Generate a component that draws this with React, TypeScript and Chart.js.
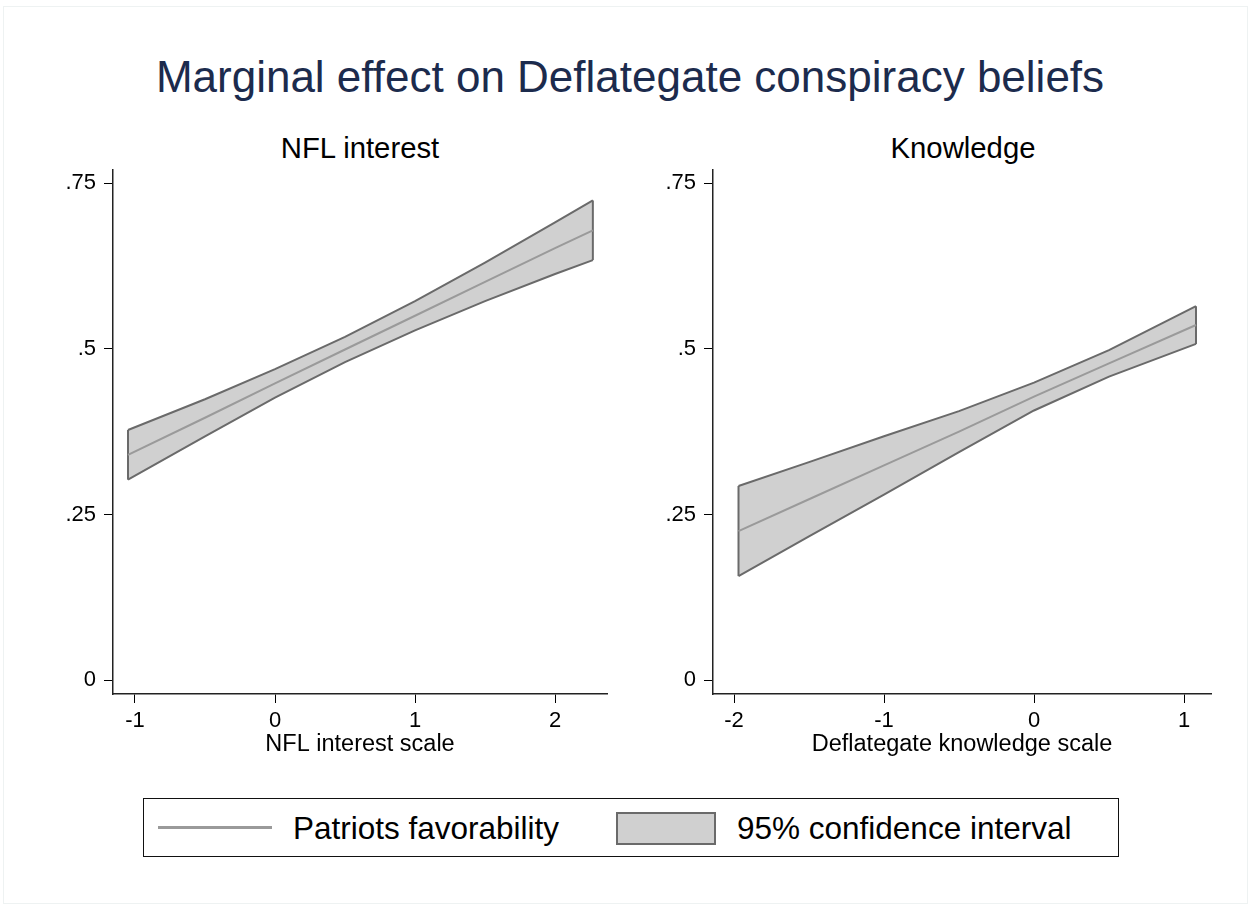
import React, { useEffect, useRef } from "react";
import { Chart, registerables } from "chart.js";

Chart.register(...registerables);

// ---------- data ----------
const mainTitle = "Marginal effect on Deflategate conspiracy beliefs";

const nflTitle = "NFL interest";
const nflAxisTitle = "NFL interest scale";
const nflX = [-1.05, -0.5, 0, 0.5, 1, 1.5, 2, 2.27];
const nflMid = [0.34, 0.396, 0.448, 0.499, 0.55, 0.601, 0.652, 0.679];
const nflUpper = [0.3775, 0.424, 0.4695, 0.518, 0.572, 0.63, 0.691, 0.724];
const nflLower = [0.3025, 0.368, 0.4265, 0.48, 0.528, 0.572, 0.613, 0.634];
const nflXTicks = [-1, 0, 1, 2];

const knowTitle = "Knowledge";
const knowAxisTitle = "Deflategate knowledge scale";
const knowX = [-1.97, -1.5, -1, -0.5, 0, 0.5, 1.08];
const knowMid = [0.225, 0.273, 0.324, 0.375, 0.428, 0.478, 0.536];
const knowUpper = [0.293, 0.329, 0.368, 0.406, 0.449, 0.498, 0.5645];
const knowLower = [0.157, 0.217, 0.28, 0.344, 0.407, 0.458, 0.5075];
const knowXTicks = [-2, -1, 0, 1];

const yTicks = [0, 0.25, 0.5, 0.75];

const legendLine = "Patriots favorability";
const legendBand = "95% confidence interval";

// ---------- style ----------
const FONT = "'Liberation Sans', Arial, Helvetica, sans-serif";
const BAND_FILL = "#d0d0d0";
const BAND_EDGE = "#6a6a6a";
const MID_LINE = "#9a9a9a";

const fmtY = (v: number) => (v === 0 ? "0" : String(v).replace(/^0/, ""));

type PanelProps = {
  left: number;
  width: number;
  yAxisWidth: number;
  rightPad: number;
  xs: number[];
  mid: number[];
  upper: number[];
  lower: number[];
  xTicks: number[];
  xMin: number;
  xMax: number;
  axisTitle: string;
};

function Panel(p: PanelProps) {
  const ref = useRef<HTMLCanvasElement | null>(null);
  useEffect(() => {
    if (!ref.current) return;
    const pts = (ys: number[]) => p.xs.map((x, i) => ({ x, y: ys[i] }));
    const n = p.xs.length - 1;
    const capStart = [
      { x: p.xs[0], y: p.lower[0] },
      { x: p.xs[0], y: p.upper[0] },
    ];
    const capEnd = [
      { x: p.xs[n], y: p.lower[n] },
      { x: p.xs[n], y: p.upper[n] },
    ];
    const chart = new Chart(ref.current, {
      type: "line",
      data: {
        datasets: [
          { data: pts(p.mid), borderColor: MID_LINE, borderWidth: 2, pointRadius: 0, fill: false, tension: 0 },
          { data: capStart, borderColor: BAND_EDGE, borderWidth: 2, pointRadius: 0, fill: false },
          { data: capEnd, borderColor: BAND_EDGE, borderWidth: 2, pointRadius: 0, fill: false },
          { data: pts(p.lower), borderColor: BAND_EDGE, borderWidth: 2, pointRadius: 0, fill: false, tension: 0 },
          { data: pts(p.upper), borderColor: BAND_EDGE, borderWidth: 2, pointRadius: 0, fill: "-1", backgroundColor: BAND_FILL, tension: 0 },
        ],
      },
      options: {
        animation: false,
        responsive: false,
        devicePixelRatio: 1,
        layout: { padding: { top: 50, right: p.rightPad, left: 0, bottom: 0 } },
        plugins: { legend: { display: false }, tooltip: { enabled: false }, title: { display: false } },
        scales: {
          x: {
            type: "linear",
            min: p.xMin,
            max: p.xMax,
            afterBuildTicks: (s: any) => {
              s.ticks = p.xTicks.map((v) => ({ value: v }));
            },
            afterFit: (s: any) => {
              s.height = 76;
            },
            grid: { display: true, drawOnChartArea: false, drawTicks: true, tickLength: 9, color: "#000", lineWidth: 1 },
            border: { display: true, color: "#222", width: 1.5 },
            ticks: { color: "#000", font: { family: FONT, size: 22 }, padding: 5, maxRotation: 0, callback: (v: any) => String(v) },
            title: { display: true, text: p.axisTitle, color: "#000", font: { family: FONT, size: 23.5 }, padding: { top: 0, bottom: 11 } },
          },
          y: {
            type: "linear",
            min: -0.021,
            max: 0.77,
            afterBuildTicks: (s: any) => {
              s.ticks = yTicks.map((v) => ({ value: v }));
            },
            afterFit: (s: any) => {
              s.width = p.yAxisWidth;
            },
            grid: { display: true, drawOnChartArea: false, drawTicks: true, tickLength: 9, color: "#000", lineWidth: 1 },
            border: { display: true, color: "#222", width: 1.5 },
            ticks: { color: "#000", font: { family: FONT, size: 22 }, padding: 8, callback: (v: any) => fmtY(Number(v)) },
          },
        },
      },
    } as any);
    return () => chart.destroy();
  }, []);
  return (
    <canvas
      ref={ref}
      width={p.width}
      height={650}
      style={{ position: "absolute", left: p.left, top: 120, width: p.width, height: 650 }}
    />
  );
}

export default function App() {
  const text = (s: string, cx: number, cy: number, size: number, color = "#000", w = 700) => (
    <div
      style={{
        position: "absolute",
        left: cx - w / 2,
        top: cy - size * 0.6,
        width: w,
        height: size * 1.2,
        lineHeight: `${size * 1.2}px`,
        textAlign: "center",
        fontFamily: FONT,
        fontSize: size,
        color,
        whiteSpace: "nowrap",
      }}
    >
      {s}
    </div>
  );
  const legendText = (s: string, left: number) => (
    <div
      style={{
        position: "absolute",
        left,
        top: 828 - 20,
        height: 40,
        lineHeight: "40px",
        fontFamily: FONT,
        fontSize: 31.5,
        color: "#000",
        whiteSpace: "nowrap",
      }}
    >
      {s}
    </div>
  );
  return (
    <div style={{ position: "absolute", left: 0, top: 0, width: 1250, height: 907, background: "#fff", overflow: "hidden" }}>
      <div style={{ position: "absolute", left: 3, top: 6, width: 1243, height: 896, border: "1px solid #eef2f2" }} />
      {text(mainTitle, 630, 77, 44, "#1c2b4d", 1100)}
      {text(nflTitle, 360, 148, 29.3)}
      {text(knowTitle, 963, 148, 29.3)}
      <Panel
        left={0}
        width={625}
        yAxisWidth={113}
        rightPad={18}
        xs={nflX}
        mid={nflMid}
        upper={nflUpper}
        lower={nflLower}
        xTicks={nflXTicks}
        xMin={-1.157}
        xMax={2.371}
        axisTitle={nflAxisTitle}
      />
      <Panel
        left={625}
        width={625}
        yAxisWidth={88}
        rightPad={39}
        xs={knowX}
        mid={knowMid}
        upper={knowUpper}
        lower={knowLower}
        xTicks={knowXTicks}
        xMin={-2.14}
        xMax={1.18}
        axisTitle={knowAxisTitle}
      />
      <div
        style={{
          position: "absolute",
          left: 143,
          top: 798,
          width: 974,
          height: 57,
          border: "1.5px solid #111",
        }}
      />
      <div style={{ position: "absolute", left: 158, top: 826, width: 114, height: 3, background: MID_LINE }} />
      {legendText(legendLine, 293)}
      <div
        style={{
          position: "absolute",
          left: 616,
          top: 812,
          width: 96,
          height: 29,
          background: BAND_FILL,
          border: `2px solid ${BAND_EDGE}`,
        }}
      />
      {legendText(legendBand, 737)}
    </div>
  );
}
